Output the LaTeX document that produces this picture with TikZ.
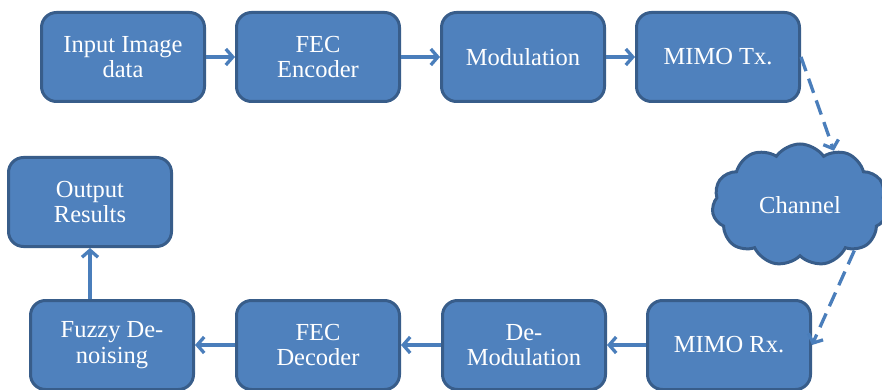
\documentclass[tikz,border=0pt]{standalone}
\usepackage{fontspec}
\setmainfont{Liberation Serif}
\usetikzlibrary{shapes.symbols,arrows.meta}
\definecolor{boxfill}{HTML}{4F81BD}
\definecolor{boxline}{HTML}{385D8A}
\definecolor{arrowcol}{HTML}{4A7EBB}
\begin{document}
\begin{tikzpicture}[x=1pt,y=-1pt,
  block/.style = {draw=boxline, fill=boxfill, line width=3pt, rounded corners=15pt,
    minimum width=163pt, minimum height=89pt, text=white, align=center,
    font=\fontsize{24.5}{25.5}\selectfont},
  flow/.style = {draw=arrowcol, line width=3.3pt, -{Straight Barb[length=7pt,width=16pt]}},
  wireless/.style = {flow, dash pattern=on 15pt off 8pt}]
\useasboundingbox (0,0) rectangle (882,390);
%---top row-------------------------------------------
\node[block] (input) at (123,57) {Input Image\\data};
\node[block] (fecenc) at (318,57) {FEC\\Encoder};
\node[block] (modul) at (523,57) {Modulation};
\node[block] (mimotx) at (718,57) {MIMO Tx.};
%---channel-------------------------------------------
\node[cloud, cloud puffs=11, cloud puff arc=110, aspect=1.4, draw=boxline, fill=boxfill,
  line width=3pt, minimum width=176pt, minimum height=122pt, inner sep=0pt,
  text=white, font=\fontsize{24.5}{25.5}\selectfont] (chan) at (800,205) {Channel};
%---bottom row----------------------------------------
\node[block] (mimorx) at (729,345) {MIMO Rx.};
\node[block] (demod) at (524,345) {De-\\Modulation};
\node[block] (fecdec) at (318,345) {FEC\\Decoder};
\node[block] (fuzzy) at (112,345) {Fuzzy De-\\noising};
\node[block] (output) at (90,202) {Output\\Results};
%---connections---------------------------------------
\draw[flow] (input) -- (fecenc);
\draw[flow] (fecenc) -- (modul);
\draw[flow] (modul) -- (mimotx);
\draw[wireless] (mimotx.east) -- (chan.58);
\draw[wireless] (chan.-40) -- (mimorx.east);
\draw[flow] (mimorx) -- (demod);
\draw[flow] (demod) -- (fecdec);
\draw[flow] (fecdec) -- (fuzzy);
\draw[flow] (fuzzy.north -| output) -- (output.south);
\end{tikzpicture}
\end{document}
